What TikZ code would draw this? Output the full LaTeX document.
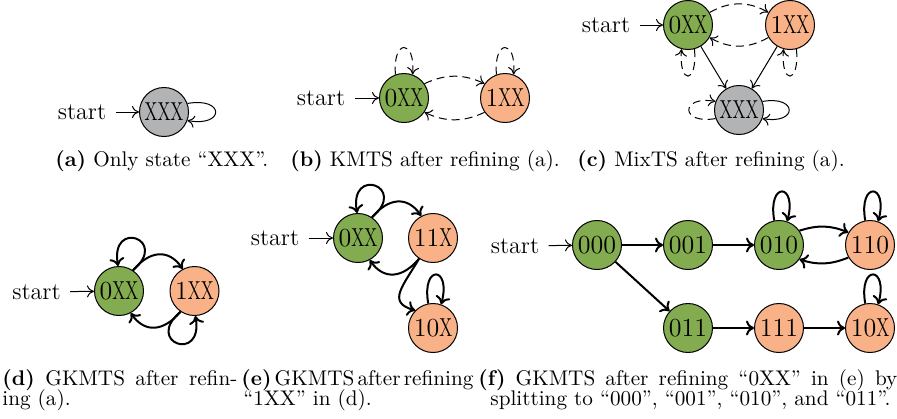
\documentclass[tikz,border=0pt]{standalone}
\usepackage{fontspec}
\usetikzlibrary{arrows.meta}
\definecolor{cgreen}{RGB}{131,171,80}
\definecolor{corange}{RGB}{249,178,135}
\definecolor{cgray}{RGB}{178,179,181}
\newcommand\Xn{\scalebox{0.68}[1]{X}}
\newcommand\nfont{\fontsize{13}{13}\selectfont}
\newcommand\sfontx{\fontsize{12}{12}\selectfont}
\newcommand\capfont{\fontsize{10.6}{12.7}\selectfont}
\tikzset{
  st/.style={circle, draw, line width=0.5pt, minimum size=24.5pt, inner sep=0pt, font=\nfont},
  gr/.style={st, fill=cgreen},
  orn/.style={st, fill=corange},
  gy/.style={st, fill=cgray},
  starttxt/.style={inner xsep=4.5pt, inner ysep=0pt, font=\sfontx},
  tl/.style={-{To[length=3.5pt,width=6pt]}, line width=0.5pt},
  dl/.style={tl, dash pattern=on 4pt off 2.5pt},
  tk/.style={-{To[length=4pt,width=7.5pt]}, line width=1pt},
  captxt/.style={inner sep=0pt, font=\capfont, anchor=base west},
}
\begin{document}
\begin{tikzpicture}[x=0.5pt,y=0.5pt]
\useasboundingbox (0,0) rectangle (897,-418);
% (a)
\node[starttxt] (sa) at (82,-112) {start};
\node[gy] (A) at (164,-112) {\Xn\Xn\Xn};
\draw[tl] (sa) -- (A);
\draw[tl] (A.20) to[out=10,in=-10,distance=19pt] (A.-20);
% (b)
\node[starttxt] (sb) at (321,-98) {start};
\node[gr] (B0) at (404,-98) {0\Xn\Xn};
\node[orn] (B1) at (505,-98) {1\Xn\Xn};
\draw[tl] (sb) -- (B0);
\draw[dl] (B0.110) to[out=95,in=85,distance=18pt] (B0.70);
\draw[dl] (B1.110) to[out=95,in=85,distance=18pt] (B1.70);
\draw[dl] (B0.35) to[bend left=25] (B1.145);
\draw[dl] (B1.-145) to[bend left=25] (B0.-35);
% (c)
\node[starttxt] (sc) at (606,-25) {start};
\node[gr] (C0) at (688,-25) {0\Xn\Xn};
\node[orn] (C1) at (790,-25) {1\Xn\Xn};
\node[gy] (CX) at (739,-110) {\Xn\Xn\Xn};
\draw[tl] (sc) -- (C0);
\draw[dl] (C0.30) to[bend left=30] (C1.150);
\draw[dl] (C1.-150) to[bend left=30] (C0.-30);
\draw[tl] (C0) -- (CX);
\draw[tl] (C1) -- (CX);
\draw[dl] (C0.-75) to[out=-85,in=-95,distance=18pt] (C0.-105);
\draw[dl] (C1.-75) to[out=-85,in=-95,distance=18pt] (C1.-105);
\draw[dl] (CX.200) to[out=190,in=170,distance=18pt] (CX.160);
\draw[tl] (CX.20) to[out=10,in=-10,distance=18pt] (CX.-20);
% (d)
\node[starttxt] (sd) at (36.5,-292) {start};
\node[gr] (D0) at (119,-291) {0\Xn\Xn};
\node[orn] (D1) at (194.5,-291) {1\Xn\Xn};
\draw[tl] (sd) -- (D0);
\draw[tk] (D0.56) to[out=40,in=100,distance=24pt] (D0.92);
\draw[tk] (D0.56) to[out=50,in=125,looseness=1.3] (D1.118);
\draw[tk] (D1.236) to[out=220,in=280,distance=24pt] (D1.272);
\draw[tk] (D1.236) to[out=230,in=305,looseness=1.3] (D0.298);
% (e)
\node[starttxt] (se) at (275,-238) {start};
\node[gr] (E0) at (358,-238) {0\Xn\Xn};
\node[orn] (E1) at (433,-238) {11\Xn};
\node[orn] (E2) at (433,-328) {10\Xn};
\draw[tl] (se) -- (E0);
\draw[tk] (E0.56) to[out=40,in=100,distance=24pt] (E0.92);
\draw[tk] (E0.56) to[out=50,in=125,looseness=1.3] (E1.118);
\draw[tk] (E1.236) to[out=230,in=305,looseness=1.3] (E0.298);
\draw[tk] (E1.236) to[out=240,in=165,looseness=1.5] (E2.135);
\draw[tk] (E2.101) to[out=100,in=75,distance=20pt] (E2.71);
% (f)
\node[starttxt] (sf) at (515,-246) {start};
\node[gr] (F000) at (597,-245) {000};
\node[gr] (F001) at (688,-245) {001};
\node[gr] (F010) at (779,-245) {010};
\node[orn] (F110) at (870,-245) {110};
\node[gr] (F011) at (688,-328) {011};
\node[orn] (F111) at (779,-328) {111};
\node[orn] (F10X) at (870,-328) {10\Xn};
\draw[tl] (sf) -- (F000);
\draw[tk] (F000) -- (F001);
\draw[tk] (F001) -- (F010);
\draw[tk] (F000) -- (F011);
\draw[tk] (F011) -- (F111);
\draw[tk] (F111) -- (F10X);
\draw[tk] (F010.35) to[bend left=20] (F110.150);
\draw[tk] (F110.-150) to[bend left=20] (F010.-35);
\draw[tk] (F010.101) to[out=100,in=75,distance=20pt] (F010.71);
\draw[tk] (F110.101) to[out=100,in=75,distance=20pt] (F110.71);
\draw[tk] (F10X.101) to[out=100,in=75,distance=20pt] (F10X.71);
% captions
\node[captxt] (capa) at (55,-166) {\textbf{(a)} Only state “XXX”.};
\node[captxt] (capb) at (290,-166) {\textbf{(b)} KMTS after refining (a).};
\node[captxt] (capc) at (577,-166) {\textbf{(c)} MixTS after refining (a).};
\node[captxt] (capd1) at (2,-385) {\makebox[117.5pt][s]{\textbf{(d)} GKMTS after refin-}};
\node[captxt] (capd2) at (2,-405) {ing (a).};
\node[captxt] (cape1) at (241,-385) {\makebox[116pt]{\textbf{(e)}\hfill GKMTS\hfill after\hfill refining}};
\node[captxt] (cape2) at (243,-405) {“1XX” in (d).};
\node[captxt] (capf1) at (478,-385) {\makebox[209.5pt][s]{\textbf{(f)} GKMTS after refining “0XX” in (e) by}};
\node[captxt] (capf2) at (490,-405) {splitting to “000”, “001”, “010”, and “011”.};
\end{tikzpicture}
\end{document}
